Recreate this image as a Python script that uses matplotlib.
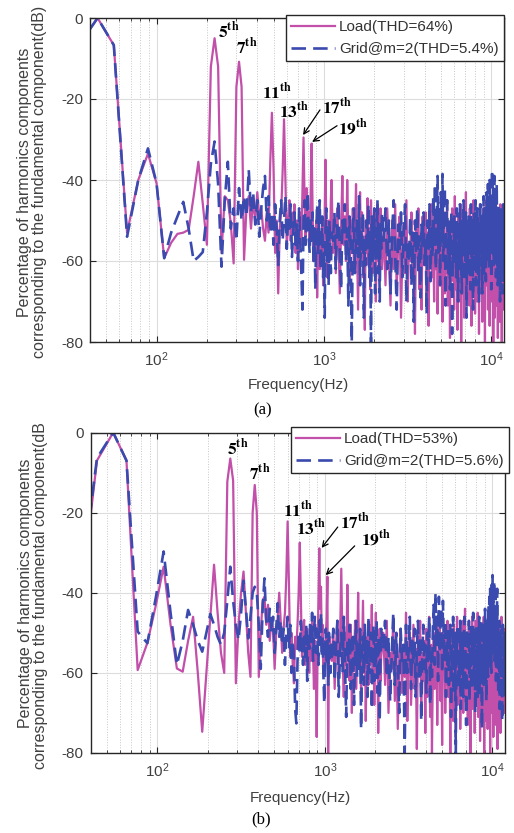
import numpy as np
import matplotlib
matplotlib.use("Agg")
import matplotlib.pyplot as plt
from matplotlib.transforms import Bbox

plt.rcParams['font.family'] = ['Liberation Sans', 'DejaVu Sans']
plt.rcParams['axes.unicode_minus'] = False
plt.rcParams['mathtext.fontset'] = 'stix'

# FFT bin width (Hz)
df_a = 11.1
df_b = 10.9

# ---------------- panel (a) ----------------
# bins 3..100, one value per bin
load_a_low = [
    -7.5, 0, -6.7, -53, -40, -33.5, -40.8, -59.3, -55.5, -53.3,
    -53, -52.3, -44, -35.5, -45.8, -56, -12, -5, -12, -58,
    -44, -45, -50.7, -60.6, -17, -10.8, -17, -59.7, -47, -44,
    -52, -45, -50, -43, -49, -47, -52, -55, -48, -53,
    -36, -23.4, -37, -58, -50, -68, -52, -48, -38, -25,
    -40, -57, -50, -45, -55, -48, -52, -46, -58, -50,
    -62, -53, -48, -56, -42, -29.5, -45, -54, -42, -50,
    -48, -56, -44, -31, -47, -60, -52, -57, -50, -69,
    -55, -48, -62, -53, -58, -50, -66, -55, -48, -35,
    -52, -64, -55, -50, -60, -56, -45, -40]
grid_a_low = [
    -7.5, 0, -6.7, -54, -40, -32.2, -40.8, -59.3, -53, -49,
    -45.4, -52, -60, -59, -57.8, -48, -36, -30.5, -41, -61.4,
    -45, -35.5, -52, -47, -55, -42, -50, -44, -49, -37.5,
    -48, -43, -51, -45, -54, -47, -42, -39, -50, -44,
    -53, -48, -56, -46, -52, -61, -50, -45, -55, -50,
    -44, -57, -49, -52, -46, -59, -53, -48, -56, -51,
    -60, -47, -55, -63, -72, -50, -45, -56, -49, -43,
    -54, -58, -50, -55, -48, -60, -52, -67, -53, -46,
    -58, -51, -45, -62, -55, -49, -64, -58, -74, -52,
    -47, -60, -54, -66, -50, -57, -63, -53]
# bins 102..200, every 2nd bin
load_a_mid = [
    -58, -50, -63, -47, -55, -68, -52, -39, -56, -49,
    -60, -40, -54, -66, -50, -58, -47, -62, -53, -41,
    -57, -72, -51, -43, -59, -48, -64, -54, -77, -50,
    -58, -44.5, -61, -52, -67, -45, -56, -63, -50, -58,
    -48, -70, -55, -46, -60, -53, -65, -47, -57, -62]
grid_a_mid = [
    -55, -48, -62, -51, -45, -58, -67, -50, -54, -46,
    -60, -52, -71, -49, -57, -80, -53, -47, -63, -55,
    -50, -59, -44, -66, -52, -58, -48, -74, -55, -61,
    -50, -57, -46, -64, -53, -80, -49, -60, -55, -47,
    -68, -52, -58, -45, -63, -54, -70, -50, -57, -48]
# bins 205..1085, every 5th bin
load_a_high = [
    -52, -66, -47, -58, -71, -50, -62, -46, -68, -55,
    -49, -74, -57, -51, -63, -45, -70, -56, -60, -48,
    -65, -53, -78, -50, -59, -47, -67, -54, -72, -49,
    -61, -56, -48, -69, -53, -76, -51, -58, -46, -64,
    -55, -70, -50, -62, -47, -73, -57, -52, -66, -49,
    -60, -75, -54, -48, -68, -56, -63, -45, -71, -53,
    -58, -79, -50, -65, -47, -61, -55, -72, -44, -67,
    -52, -59, -77, -49, -63, -54, -70, -46, -80, -57,
    -51, -66, -48, -74, -55, -62, -43, -69, -58, -50,
    -64, -53, -71, -47, -60, -56, -76, -49, -67, -54,
    -45, -62, -58, -73, -51, -65, -48, -70, -55, -60,
    -50, -78, -57, -46, -68, -53, -63, -49, -75, -56,
    -61, -47, -69, -54, -80, -52, -59, -45, -66, -57,
    -50, -72, -55, -63, -48, -76, -53, -60, -44, -70,
    -58, -51, -67, -49, -80, -56, -62, -47, -74, -53,
    -59, -45, -71, -55, -64, -50, -79, -57, -48, -66,
    -52, -75, -60, -46, -69, -54, -63, -80, -51, -67,
    -56, -48, -72, -58, -62, -50, -70]
grid_a_high = [
    -55, -47, -62, -50, -68, -53, -45, -59, -72, -51,
    -57, -48, -64, -52, -46, -70, -55, -60, -49, -66,
    -53, -75, -50, -58, -47, -63, -54, -69, -51, -56,
    -48, -61, -55, -73, -50, -57, -46, -65, -52, -59,
    -44, -56, -41, -62, -49, -39, -58, -47, -66, -43,
    -54, -38.5, -60, -48, -42, -71, -51, -45, -57, -63,
    -50, -67, -53, -48, -78, -55, -61, -49, -58, -52,
    -64, -47, -56, -70, -51, -59, -46, -62, -54, -68,
    -50, -57, -45, -65, -53, -60, -48, -74, -55, -51,
    -63, -49, -58, -52, -67, -46, -56, -61, -50, -72,
    -54, -48, -62, -57, -45, -66, -52, -59, -47, -64,
    -53, -70, -50, -58, -46, -61, -55, -49, -68, -52,
    -57, -44, -63, -51, -59, -47, -65, -54, -43, -60,
    -49, -41, -56, -46, -62, -40, -53, -58, -44, -67,
    -50, -37.5, -55, -48, -42, -61, -47, -39, -57, -52,
    -45, -64, -51, -41, -58, -48, -66, -53, -46, -60,
    -55, -49, -70, -52, -57, -47, -63, -54, -50, -68,
    -53, -46, -61, -56, -49, -65, -52]

# ---------------- panel (b) ----------------
load_b_low = [
    -52, -7, 0, -7, -59.3, -52.5, -43, -33.5, -48, -58.9,
    -59.7, -52, -46, -60, -74.7, -60, -46, -33, -45, -55,
    -60, -12.3, -6.5, -12, -62.6, -48, -40, -34.7, -45, -55,
    -61, -20, -13.1, -20, -61, -50, -42, -41, -48, -43,
    -52, -47, -49, -59, -50, -46, -40, -47, -55, -49,
    -45, -36, -22.2, -38, -56, -50, -58, -62.6, -51, -54,
    -48, -40, -27.5, -42, -56, -50, -46.8, -58, -52, -49,
    -54, -60, -51, -57, -47, -55, -64, -52, -58, -76,
    -55, -42, -28.9, -44, -38.5, -54, -48, -60, -52, -57,
    -50, -47, -36, -80, -58, -51, -56, -53]
grid_b_low = [
    -48, -6.4, 0, -7, -49.7, -52.6, -41, -29.7, -45, -58,
    -52, -44.3, -48, -52, -54.7, -50, -45.3, -48, -51, -53,
    -50, -42, -33.5, -42, -48, -51.8, -45, -37, -44, -51.4,
    -46, -40, -38.5, -40, -48, -59, -44, -36.4, -47, -51,
    -44, -50, -46, -55, -49, -42.6, -51, -47, -53, -49,
    -58, -50, -46, -54, -48, -60, -52, -56, -69, -72.6,
    -57, -50, -55, -47, -53, -58, -51, -56, -48, -62,
    -50, -54, -47, -53, -45, -57, -50, -46, -55, -49,
    -52, -58, -47, -53, -45, -56, -51, -61, -67.6, -54,
    -49, -58, -52, -63, -50, -56, -60, -53]
# bins 101..199, every 2nd bin
load_b_mid = [
    -57, -49, -64, -53, -47, -60, -52, -34, -55, -66,
    -50, -58, -38, -54, -62, -48, -70, -53, -59, -47,
    -64, -55, -40, -57, -50, -67, -54, -42, -60, -49,
    -72, -56, -51, -63, -48, -58, -53, -43, -61, -50,
    -68, -55, -45, -59, -52, -75, -54, -49, -62, -56]
grid_b_mid = [
    -56, -49, -62, -53, -47, -66, -55, -50, -60, -46,
    -58, -71, -52, -57, -48, -64, -54, -50, -68, -56,
    -47, -61, -53, -59, -49, -74, -55, -51, -63, -48,
    -57, -52, -66, -46, -60, -54, -50, -69, -56, -48,
    -62, -53, -58, -47, -65, -55, -51, -72, -57, -49]
# bins 205..1085, every 5th bin
load_b_high = [
    -50, -63, -47, -70, -55, -59, -46, -67, -52, -74,
    -57, -49, -65, -53, -61, -45, -72, -56, -50, -68,
    -58, -48, -64, -54, -79, -51, -60, -47, -69, -55,
    -62, -52, -75, -49, -66, -57, -46, -71, -53, -80,
    -59, -50, -64, -55, -48, -73, -56, -61, -45, -67,
    -54, -78, -51, -60, -49, -70, -57, -63, -47, -66,
    -53, -58, -80, -50, -62, -55, -72, -48, -65, -52,
    -76, -56, -46, -68, -54, -61, -49, -74, -57, -51,
    -64, -47, -70, -55, -59, -44, -67, -53, -62, -50,
    -73, -56, -48, -66, -52, -80, -58, -61, -46, -69,
    -54, -63, -50, -75, -57, -47, -68, -53, -60, -45,
    -71, -55, -62, -49, -77, -52, -65, -58, -48, -70,
    -56, -61, -46, -80, -53, -66, -50, -72, -57, -63,
    -49, -74, -54, -59, -47, -68, -52, -80, -60, -55,
    -45, -70, -58, -63, -51, -76, -56, -48, -67, -53,
    -62, -47, -73, -55, -60, -50, -79, -57, -64, -52,
    -69, -48, -61, -56, -75, -53, -66, -46, -71, -58,
    -51, -65, -57, -62, -49, -70, -55]
grid_b_high = [
    -54, -47, -61, -51, -67, -56, -45, -63, -50, -58,
    -70, -49, -57, -53, -80, -48, -60, -55, -46, -64,
    -52, -58, -49, -66, -54, -47, -62, -51, -72, -56,
    -48, -59, -53, -65, -50, -57, -46, -68, -55, -61,
    -49, -43, -58, -40, -53, -46, -62, -41, -55, -48,
    -44, -60, -42, -51, -57, -47, -66, -52, -58, -49,
    -63, -54, -48, -71, -53, -59, -46, -65, -56, -50,
    -80, -52, -57, -48, -64, -55, -61, -47, -69, -53,
    -58, -50, -66, -54, -46, -62, -51, -73, -56, -49,
    -60, -53, -47, -67, -55, -59, -48, -64, -52, -57,
    -45, -63, -54, -50, -70, -56, -48, -61, -53, -66,
    -49, -58, -46, -65, -52, -60, -55, -47, -74, -54,
    -59, -50, -63, -48, -56, -44, -62, -53, -67, -51,
    -57, -46, -61, -43, -54, -41, -58, -39, -52, -45,
    -60, -38, -49, -35.6, -55, -42, -47, -37, -57, -44,
    -51, -40, -62, -46, -53, -39, -58, -48, -65, -50,
    -56, -47, -69, -53, -60, -49, -64, -55, -51, -72,
    -54, -48, -62, -57, -50, -66, -53]

labels_a = ['Load(THD=64%)', 'Grid@m=2(THD=5.4%)']
labels_b = ['Load(THD=53%)', 'Grid@m=2(THD=5.6%)']
orders = ['5', '7', '11', '13', '17', '19']

load_color = '#c24fa9'
grid_color = '#3a4aae'
txt_color = '#404040'


def spectrum(low, mid, high, mid_start, df):
    bins = np.concatenate([3 + np.arange(len(low)),
                           mid_start + 2 * np.arange(len(mid)),
                           205 + 5 * np.arange(len(high))])
    return bins * df, np.array(low + mid + high, dtype=float)


def draw(ax, load, grid, labels, legend_anchor, fig):
    ax.plot(load[0], load[1], color=load_color, lw=1.6, label=labels[0])
    ax.plot(grid[0], grid[1], color=grid_color, lw=1.9, dashes=(5.5, 2.7), label=labels[1])
    ax.set_xscale('log')
    ax.set_xlim(40, 11900)
    ax.set_ylim(-80, 0)
    ax.set_yticks([-80, -60, -40, -20, 0])
    ax.grid(True, which='major', color='#dcdcdc', lw=0.8, ls='-')
    ax.grid(True, which='minor', axis='x', color='#c8c8c8', lw=0.7, ls=':')
    ax.set_axisbelow(True)
    ax.tick_params(which='both', direction='in', top=True, right=True,
                   colors='#262626', labelcolor=txt_color, labelsize=11)
    ax.tick_params(which='major', length=4)
    ax.tick_params(which='minor', length=2.5)
    ax.tick_params(axis='x', pad=6)
    ax.tick_params(axis='y', pad=5)
    for s in ax.spines.values():
        s.set_color('#262626')
        s.set_linewidth(1.0)
    leg = ax.legend(loc='upper right', bbox_to_anchor=legend_anchor,
                    bbox_transform=fig.transFigure, borderaxespad=0,
                    fancybox=False, framealpha=1, edgecolor='#262626',
                    fontsize=11, handlelength=2.9, handletextpad=0.25,
                    labelspacing=0.5, borderpad=0.35)
    leg.get_frame().set_linewidth(1.0)
    for t in leg.get_texts():
        t.set_color('#333333')


def harmonics(ax, pos, arrows):
    for o, (x, y) in zip(orders, pos):
        ax.text(x, y, r'$\mathbf{' + o + '^{th}}$', fontsize=12.5,
                ha='left', va='baseline', color='black')
    for tail, tip in arrows:
        ax.annotate('', xy=tip, xytext=tail,
                    arrowprops=dict(arrowstyle='->', lw=0.9, color='black',
                                    shrinkA=0, shrinkB=0))


fig = plt.figure(figsize=(5.14, 8.33), dpi=100)
W, H = 514, 833

ax_a = fig.add_axes([90 / W, 1 - 342 / H, 414 / W, 324 / H])
ax_b = fig.add_axes([90.7 / W, 1 - 753 / H, 414.3 / W, 320.5 / H])

sa_load = spectrum(load_a_low, load_a_mid, load_a_high, 102, df_a)
sa_grid = spectrum(grid_a_low, grid_a_mid, grid_a_high, 102, df_a)
sb_load = spectrum(load_b_low, load_b_mid, load_b_high, 101, df_b)
sb_grid = spectrum(grid_b_low, grid_b_mid, grid_b_high, 101, df_b)

draw(ax_a, sa_load, sa_grid, labels_a, (504 / W, 1 - 15 / H), fig)
draw(ax_b, sb_load, sb_grid, labels_b, (509 / W, 1 - 427 / H), fig)

harmonics(ax_a,
          [(233, -4.9), (298, -8.9), (424, -20.0), (540, -24.6), (973, -23.6), (1205, -28.6)],
          [((946, -22.7), (750, -28.9)), ((1197, -26.6), (849, -30.6))])
harmonics(ax_b,
          [(261, -5.6), (354, -11.9), (563, -21.0), (668, -25.4), (1227, -24.0), (1640, -28.2)],
          [((1194, -23.6), (957, -28.8)), ((1507, -28.3), (1012, -35.6))])

ylab = 'Percentage of harmonics components\ncorresponding to the fundamental component(dB)'
fig.text(32 / W, 1 - 182 / H, ylab, rotation=90, ha='center', va='center',
         fontsize=11.5, color=txt_color, linespacing=1.05, multialignment='center')
tb = fig.text(33 / W, 1 - 593 / H, ylab, rotation=90, ha='center', va='center',
              fontsize=11.5, color=txt_color, linespacing=1.05, multialignment='center')
tb.set_clip_box(Bbox.from_extents(0, 0, W, H - 424))
tb.set_clip_on(True)

fig.text(298 / W, 1 - 385 / H, 'Frequency(Hz)', ha='center', va='center',
         fontsize=11, color=txt_color)
fig.text(300 / W, 1 - 798 / H, 'Frequency(Hz)', ha='center', va='center',
         fontsize=11, color=txt_color)
fig.text(263 / W, 1 - 410 / H, '(a)', ha='center', va='center',
         fontsize=12, family='Liberation Serif', color='black')
fig.text(261 / W, 1 - 819 / H, '(b)', ha='center', va='center',
         fontsize=12, family='Liberation Serif', color='black')

fig.savefig('out.png', dpi=100)
